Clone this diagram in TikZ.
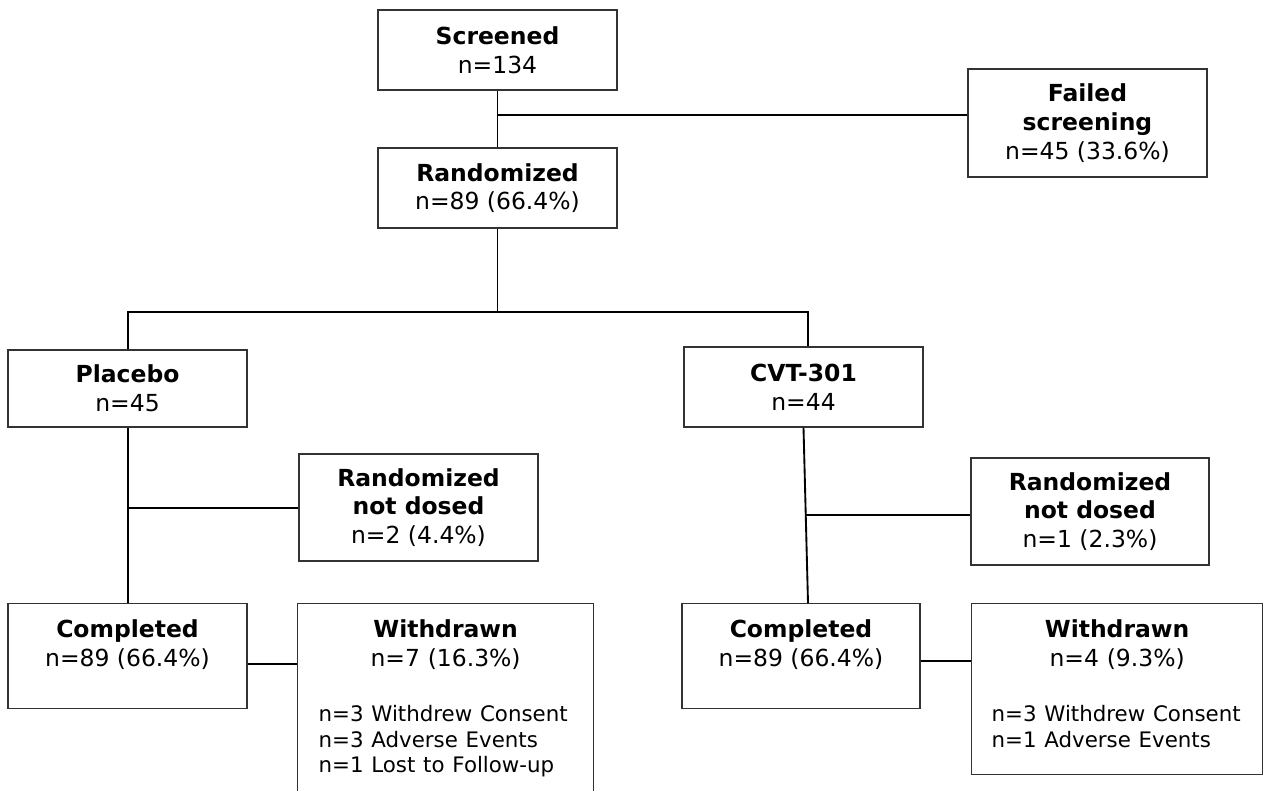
\documentclass[tikz,border=0pt]{standalone}
\usepackage{fontspec}
\setmainfont{DejaVu Sans}
\newlength\pxu
\pxu=0.75pt
\newcommand\listfont{\fontsize{16}{21.5}\selectfont}

\begin{document}
\begin{tikzpicture}[x=0.75pt, y=-0.75pt, align=center,
    font=\fontsize{17.6}{21.5}\selectfont]
    \tikzset{box/.style = {rectangle, draw=black!80, line width=0.9pt, inner sep=0pt},
             link/.style = {line width=1.4pt}}
    \clip (0,0) rectangle (1263,791);

    \node (a) at (497.5, 50) [box, minimum width=239\pxu, minimum height=80\pxu] {\textbf{Screened}\\n=134};
    \node (b) at (497.5, 188) [box, minimum width=239\pxu, minimum height=80\pxu] {\textbf{Randomized}\\n=89 (66.4\%)};
    \node (c) at (1087.5, 123) [box, minimum width=239\pxu, minimum height=108\pxu] {\textbf{Failed}\\\textbf{screening}\\n=45 (33.6\%)};

    \node (d) at (127.5, 388.5) [box, minimum width=239\pxu, minimum height=77\pxu] {\textbf{Placebo}\\n=45};
    \node (e) at (803.5, 387) [box, minimum width=239\pxu, minimum height=80\pxu] {\textbf{CVT-301}\\n=44};

    \node (f) at (418.5, 507.5) [box, minimum width=239\pxu, minimum height=107\pxu] {\textbf{Randomized}\\\textbf{not dosed}\\n=2 (4.4\%)};
    \node (i) at (1090, 511.5) [box, minimum width=238\pxu, minimum height=107\pxu] {\textbf{Randomized}\\\textbf{not dosed}\\n=1 (2.3\%)};

    \node (g) at (127.5, 603) [box, anchor=north, minimum width=239\pxu, inner ysep=16\pxu, text depth=26\pxu] {\textbf{Completed}\\n=89 (66.4\%)};
    \node (j) at (801, 603) [box, anchor=north, minimum width=238\pxu, inner ysep=16\pxu, text depth=26\pxu] {\textbf{Completed}\\n=89 (66.4\%)};

    \node (h) at (297, 603) [box, anchor=north west, align=left, text width=254\pxu, inner xsep=21\pxu, inner ysep=16\pxu, text depth=160\pxu]
        {\makebox[254\pxu]{\textbf{Withdrawn}}\\\makebox[254\pxu]{n=7 (16.3\%)}\\[27\pxu]\listfont
         \mbox{n=3 Withdrew Consent}\\[-3.2\pxu]\mbox{n=3 Adverse Events}\\[-3.2\pxu]\mbox{n=1 Lost to Follow-up}};
    \node (k) at (971, 603) [box, anchor=north west, align=left, text width=251\pxu, inner xsep=20\pxu, inner ysep=16\pxu, text depth=121\pxu]
        {\makebox[251\pxu]{\textbf{Withdrawn}}\\\makebox[251\pxu]{n=4 (9.3\%)}\\[27\pxu]\listfont
         \mbox{n=3 Withdrew Consent}\\[-3.2\pxu]\mbox{n=1 Adverse Events}};

    \coordinate (s) at (498, 115);
    \coordinate (p) at (128, 312);
    \coordinate (q) at (808, 312);
    \coordinate (u) at (128, 508);
    \coordinate (v) at (0, 664);
    \coordinate (r) at (808, 603);
    \coordinate (w) at (806, 515);
    \coordinate (x) at (0, 661);

    \draw [link] (a) -- (b);
    \draw [link] (s) -- (s -| c.west);

    \draw [link] (b) -- (b |- p);
    \draw [link] (d.north -| p) -- (p) -- (q) -- (q |- e.north);

    \draw [link] (d.south -| p) -- (g.north -| p);
    \draw [link] (u) -- (u -| f.west);
    \draw [link] (g.east |- v) -- (h.west |- v);

    \draw [link] (e.south) -- (r);
    \draw [link] (w) -- (w -| i.west);
    \draw [link] (j.east |- x) -- (k.west |- x);
\end{tikzpicture}
\end{document}
